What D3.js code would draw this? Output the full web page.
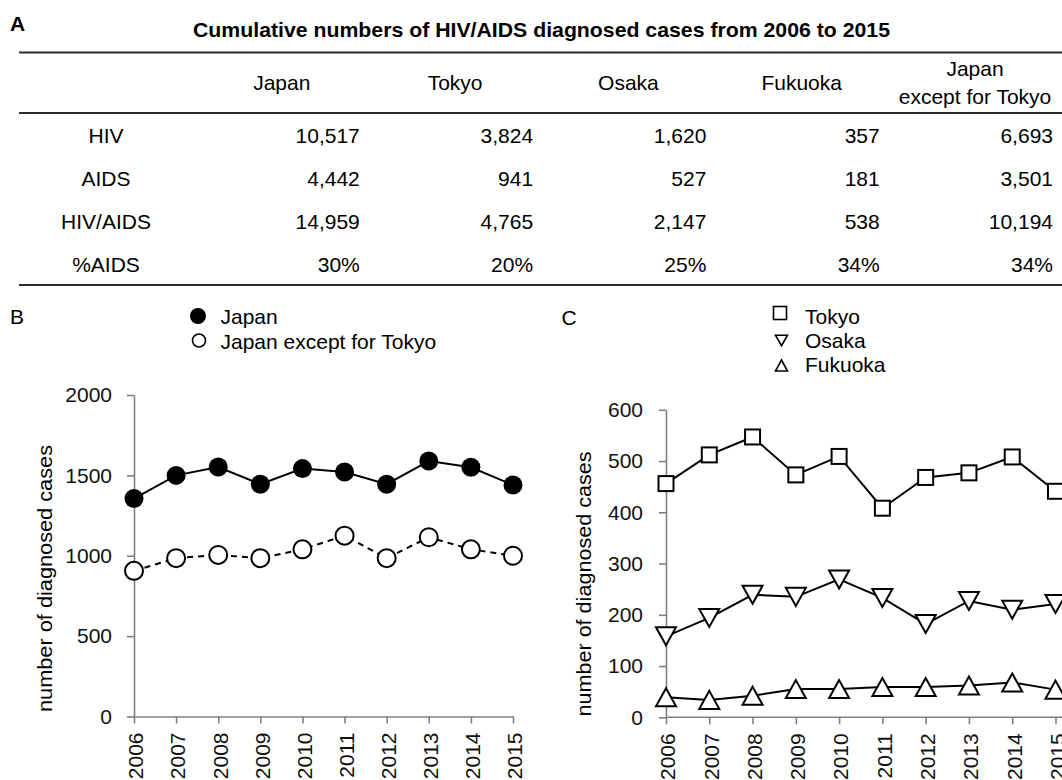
<!DOCTYPE html>
<html>
<head>
<meta charset="utf-8">
<script src="https://cdn.jsdelivr.net/npm/d3@7"></script>
<style>
body{margin:0;background:#fff;}
svg{display:block;font-family:"Liberation Sans",Arial,sans-serif;}
</style>
</head>
<body>
<svg id="canvas"></svg>
<script>
// values
let years=[2006,2007,2008,2009,2010,2011,2012,2013,2014,2015];
let japan=[1356,1500,1552,1445,1542,1521,1445,1589,1550,1440];
let japanExceptTokyo=[906,985,1005,985,1040,1125,985,1115,1040,1000];
let tokyo=[456,512,547,473,509,408,468,477,508,441];
let osaka=[158,194,239,235,269,233,182,227,210,221];
let fukuoka=[39,34,42,55,55,59,59,62,68,54];
let yTicksB=[0,500,1000,1500,2000];
let yTicksC=[0,100,200,300,400,500,600];

let tableTitle="Cumulative numbers of HIV/AIDS diagnosed cases from 2006 to 2015";
let tableColumns=[["Japan"],["Tokyo"],["Osaka"],["Fukuoka"],["Japan","except for Tokyo"]];
let tableRows=["HIV","AIDS","HIV/AIDS","%AIDS"];
let hivCases=[10517,3824,1620,357,6693];
let aidsCases=[4442,941,527,181,3501];
let hivAidsCases=[14959,4765,2147,538,10194];
let percentAids=[30,20,25,34,34];

let width=1062;
let height=780;
let fs=21;

let canvas=d3.select("#canvas")
canvas.attr('width',width)
canvas.attr('height',height)

let fmt=d3.format(",");

// ---------- panel A : table ----------
function drawTable(){
    canvas.append('text')
        .attr('x',10).attr('y',31)
        .attr('font-size',fs).attr('font-weight','bold')
        .text('A');
    canvas.append('text')
        .attr('x',193).attr('y',36.5)
        .attr('font-size',fs).attr('font-weight','bold')
        .attr('textLength',697).attr('lengthAdjust','spacingAndGlyphs')
        .text(tableTitle);

    [52.5,113,285].forEach((y)=>{
        canvas.append('line')
            .attr('x1',19).attr('x2',width)
            .attr('y1',y).attr('y2',y)
            .attr('stroke','#2b2b2b').attr('stroke-width',2);
    });

    let colScale=d3.scaleBand()
        .domain(d3.range(tableColumns.length))
        .range([186.5,1053]);
    let rowScale=d3.scalePoint()
        .domain(tableRows)
        .range([142.5,271.5]);

    // headers
    tableColumns.forEach((lines,i)=>{
        let cx=colScale(i)+colScale.bandwidth()-78;
        lines.forEach((t,j)=>{
            canvas.append('text')
                .attr('x',cx)
                .attr('y',90+(j-(lines.length-1)/2)*27.5)
                .attr('text-anchor','middle')
                .attr('font-size',fs)
                .text(t);
        });
    });

    let rowValues=[
        hivCases.map(fmt),
        aidsCases.map(fmt),
        hivAidsCases.map(fmt),
        percentAids.map((d)=>d+'%')
    ];
    tableRows.forEach((r,ri)=>{
        canvas.append('text')
            .attr('x',106).attr('y',rowScale(r))
            .attr('text-anchor','middle')
            .attr('font-size',fs)
            .text(r);
        rowValues[ri].forEach((v,ci)=>{
            canvas.append('text')
                .attr('x',colScale(ci)+colScale.bandwidth())
                .attr('y',rowScale(r))
                .attr('text-anchor','end')
                .attr('font-size',fs)
                .text(v);
        });
    });
}

// ---------- shared axis helpers ----------
function styleAxis(g){
    g.attr('font-size',fs).attr('font-family','"Liberation Sans",Arial,sans-serif');
    g.selectAll('.domain').attr('stroke','#808080').attr('stroke-width',1.6);
    g.selectAll('.tick line').attr('stroke','#808080').attr('stroke-width',1.6);
    g.selectAll('.tick text').attr('fill','#111');
}

function drawXAxis(xscale,y0){
    let g=canvas.append('g')
        .attr('transform','translate(0,'+y0+')')
        .call(d3.axisBottom(xscale).tickValues(years).tickFormat(d3.format('d')).tickSize(7).tickSizeOuter(0));
    g.selectAll('.tick text')
        .attr('transform','rotate(-90)')
        .attr('x',-16).attr('y',0)
        .attr('dy','0.42em')
        .style('text-anchor','end');
    styleAxis(g);
    return g;
}

function drawYAxis(yscale,ticks,x0,pad){
    let g=canvas.append('g')
        .attr('transform','translate('+x0+',0)')
        .call(d3.axisLeft(yscale).tickValues(ticks).tickFormat(d3.format('d')).tickSize(7).tickPadding(pad).tickSizeOuter(0));
    styleAxis(g);
    return g;
}

function yTitle(x,y,len){
    canvas.append('text')
        .attr('transform','translate('+x+','+y+') rotate(-90)')
        .attr('text-anchor','middle')
        .attr('font-size',fs)
        .attr('textLength',len).attr('lengthAdjust','spacingAndGlyphs')
        .text('number of diagnosed cases');
}

function triPath(w,h,down){
    if(down){
        return 'M0,'+(h/2)+'L'+(w/2)+','+(-h/2)+'L'+(-w/2)+','+(-h/2)+'Z';
    }
    return 'M0,'+(-h/2)+'L'+(w/2)+','+(h/2)+'L'+(-w/2)+','+(h/2)+'Z';
}

// ---------- panel B ----------
function drawPanelB(){
    let xscale=d3.scaleLinear().domain([2006,2015]).range([134,513]);
    let yscale=d3.scaleLinear().domain([0,2000]).range([716.5,395]);

    canvas.append('text').attr('x',10).attr('y',323.5).attr('font-size',fs).text('B');

    // legend
    canvas.append('circle').attr('cx',198).attr('cy',316).attr('r',8).attr('fill','#000');
    canvas.append('circle').attr('cx',199).attr('cy',340.5).attr('r',6.5)
        .attr('fill','#fff').attr('stroke','#000').attr('stroke-width',1.6);
    canvas.append('text').attr('x',220.5).attr('y',323.5).attr('font-size',fs).text('Japan');
    canvas.append('text').attr('x',220.5).attr('y',348.5).attr('font-size',fs).text('Japan except for Tokyo');

    drawYAxis(yscale,yTicksB,134,15);
    drawXAxis(xscale,716.5);
    yTitle(52,578.5,267);

    let line=d3.line().x((d,i)=>xscale(years[i])).y((d)=>yscale(d));

    canvas.append('path').datum(japanExceptTokyo)
        .attr('d',line).attr('fill','none')
        .attr('stroke','#000').attr('stroke-width',2)
        .attr('stroke-dasharray','6,5');
    canvas.append('path').datum(japan)
        .attr('d',line).attr('fill','none')
        .attr('stroke','#000').attr('stroke-width',2);

    canvas.append('g').selectAll('circle')
        .data(japanExceptTokyo).enter().append('circle')
        .attr('cx',(d,i)=>xscale(years[i]))
        .attr('cy',(d)=>yscale(d))
        .attr('r',9)
        .attr('fill','#fff').attr('stroke','#000').attr('stroke-width',2);
    canvas.append('g').selectAll('circle')
        .data(japan).enter().append('circle')
        .attr('cx',(d,i)=>xscale(years[i]))
        .attr('cy',(d)=>yscale(d))
        .attr('r',9.5)
        .attr('fill','#000');
}

// ---------- panel C ----------
function drawPanelC(){
    let xscale=d3.scaleLinear().domain([2006,2015]).range([666,1055.5]);
    let yscale=d3.scaleLinear().domain([0,600]).range([717.3,409.8]);

    canvas.append('text').attr('x',561.5).attr('y',324.5).attr('font-size',fs).text('C');

    // legend
    canvas.append('rect').attr('x',773.5).attr('y',306.5).attr('width',13).attr('height',13)
        .attr('fill','#fff').attr('stroke','#000').attr('stroke-width',1.6);
    canvas.append('path').attr('d',triPath(12,10.5,true))
        .attr('transform','translate(781.5,340.5)')
        .attr('fill','#fff').attr('stroke','#000').attr('stroke-width',1.6);
    canvas.append('path').attr('d',triPath(12,11,false))
        .attr('transform','translate(781.5,365.5)')
        .attr('fill','#fff').attr('stroke','#000').attr('stroke-width',1.6);
    canvas.append('text').attr('x',805).attr('y',323.5).attr('font-size',fs).text('Tokyo');
    canvas.append('text').attr('x',805).attr('y',347.5).attr('font-size',fs).text('Osaka');
    canvas.append('text').attr('x',805).attr('y',371.5).attr('font-size',fs).text('Fukuoka');

    drawYAxis(yscale,yTicksC,666,16);
    let gx=drawXAxis(xscale,717.3);
    gx.select('.domain').remove();
    canvas.append('line')
        .attr('x1',xscale(2006)).attr('x2',width)
        .attr('y1',717.3).attr('y2',717.3)
        .attr('stroke','#808080').attr('stroke-width',1.6);
    yTitle(591,584,265);

    let line=d3.line().x((d,i)=>xscale(years[i])).y((d)=>yscale(d));
    [tokyo,osaka,fukuoka].forEach((s)=>{
        canvas.append('path').datum(s)
            .attr('d',line).attr('fill','none')
            .attr('stroke','#000').attr('stroke-width',2);
    });

    canvas.append('g').selectAll('rect')
        .data(tokyo).enter().append('rect')
        .attr('x',(d,i)=>xscale(years[i])-7.5)
        .attr('y',(d)=>yscale(d)-7.5)
        .attr('width',15).attr('height',15)
        .attr('fill','#fff').attr('stroke','#000').attr('stroke-width',2);
    canvas.append('g').selectAll('path')
        .data(osaka).enter().append('path')
        .attr('d',triPath(20,18,true))
        .attr('transform',(d,i)=>'translate('+xscale(years[i])+','+yscale(d)+')')
        .attr('fill','#fff').attr('stroke','#000').attr('stroke-width',2);
    canvas.append('g').selectAll('path')
        .data(fukuoka).enter().append('path')
        .attr('d',triPath(20,18,false))
        .attr('transform',(d,i)=>'translate('+xscale(years[i])+','+yscale(d)+')')
        .attr('fill','#fff').attr('stroke','#000').attr('stroke-width',2);
}

drawTable();
drawPanelB();
drawPanelC();
</script>
</body>
</html>
